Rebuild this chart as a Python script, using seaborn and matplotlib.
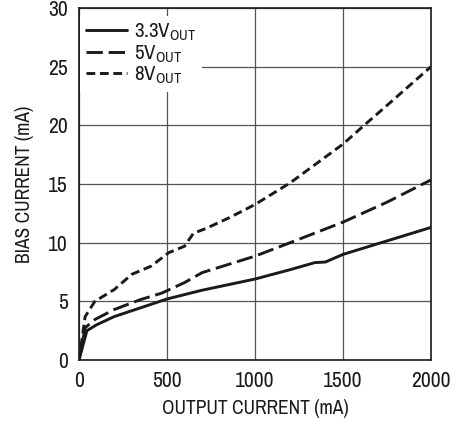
import pandas as pd
import matplotlib
matplotlib.use('Agg')
import matplotlib.pyplot as plt
from matplotlib import font_manager
import seaborn as sns

# Data
x_33 = [0, 45, 100, 200, 350, 500, 700, 1000, 1200, 1340, 1400, 1500, 1750, 2000]
y_33 = [0, 2.5, 3.0, 3.7, 4.45, 5.2, 5.95, 6.9, 7.7, 8.3, 8.35, 9.0, 10.15, 11.3]

x_5 = [0, 35, 90, 200, 350, 470, 600, 700, 1000, 1200, 1500, 1750, 2000]
y_5 = [0, 2.75, 3.45, 4.3, 5.15, 5.7, 6.6, 7.45, 8.85, 10.0, 11.75, 13.45, 15.35]

x_8 = [0, 35, 90, 200, 300, 410, 510, 600, 650, 720, 850, 1000, 1200, 1500, 1620, 1750, 2000]
y_8 = [0, 3.7, 5.0, 6.0, 7.3, 8.0, 9.15, 9.7, 10.8, 11.2, 12.1, 13.25, 15.1, 18.4, 20.0, 21.7, 25.0]

labels = [r'3.3V$_{\mathregular{OUT}}$', r'5V$_{\mathregular{OUT}}$', r'8V$_{\mathregular{OUT}}$']

df = pd.concat([
    pd.DataFrame({'x': x_33, 'y': y_33, 'series': labels[0]}),
    pd.DataFrame({'x': x_5, 'y': y_5, 'series': labels[1]}),
    pd.DataFrame({'x': x_8, 'y': y_8, 'series': labels[2]}),
])

# look for a narrow font, otherwise Liberation Sans
narrow = None
for f in font_manager.fontManager.ttflist:
    if ('Narrow' in f.name or 'Condensed' in f.name) and 'Mono' not in f.name:
        narrow = f.name
        break
family = narrow or 'Liberation Sans'

sns.set_theme(style='white')
plt.rcParams['font.family'] = [family, 'DejaVu Sans']
plt.rcParams['mathtext.fontset'] = 'custom'
plt.rcParams['mathtext.rm'] = family

ink = '#1a1a1a'
fig = plt.figure(figsize=(4.66, 4.21), dpi=100)
ax = fig.add_axes([79 / 466, 61 / 421, 352 / 466, 352 / 421])

dashes = {labels[0]: '', labels[1]: (5.6, 2.0), labels[2]: (3.0, 1.6)}
sns.lineplot(data=df, x='x', y='y', hue='series', style='series',
             palette=[ink] * 3, dashes=dashes, estimator=None,
             linewidth=2.1, ax=ax, legend=True)

ax.set_xlim(0, 2000)
ax.set_ylim(0, 30)
ax.set_xticks([0, 500, 1000, 1500, 2000])
ax.set_yticks([0, 5, 10, 15, 20, 25, 30])
ax.grid(True, color='#555555', linewidth=0.9)
for s in ax.spines.values():
    s.set_color(ink)
    s.set_linewidth(1.2)
    s.set_zorder(6)
ax.tick_params(axis='both', which='major', length=0, labelsize=15.5,
               labelcolor=ink)
ax.tick_params(axis='x', pad=8)
ax.tick_params(axis='y', pad=8)

ax.set_xlabel('OUTPUT CURRENT (mA)', fontsize=14, color=ink, labelpad=6)
ax.set_ylabel('BIAS CURRENT (mA)', fontsize=14, color=ink, labelpad=10)

handles, _ = ax.get_legend_handles_labels()
leg = ax.legend(handles, labels, loc='upper left', bbox_to_anchor=(0.004, 0.978),
                frameon=True, facecolor='white', edgecolor='none', framealpha=1,
                fontsize=15, handlelength=1.95, handletextpad=0.35,
                labelspacing=0.0, borderpad=0.28, borderaxespad=0.0,
                fancybox=False)
for t in leg.get_texts():
    t.set_color(ink)

fig.savefig('out.png', dpi=100)
